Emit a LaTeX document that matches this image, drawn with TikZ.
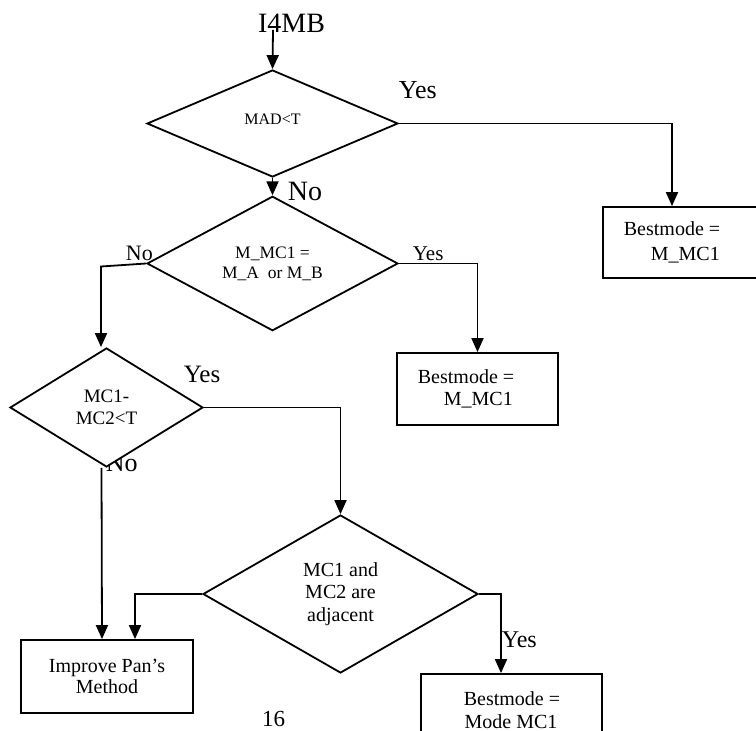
\documentclass[tikz,border=0pt]{standalone}
\usepackage{fontspec}
\setmainfont{Liberation Serif}
\usetikzlibrary{shapes.geometric,arrows.meta}
\newcommand{\fs}[1]{\fontsize{#1}{#1}\selectfont}
\begin{document}
\begin{tikzpicture}[x=1pt,y=-1pt,
  line width=1.8pt,
  arr/.style={-{Triangle[width=12pt,length=14pt]}},
  dec/.style={diamond,draw,fill=white,inner sep=0pt,align=center},
  box/.style={rectangle,draw,fill=white,inner sep=0pt},
  lbl/.style={inner sep=0pt,anchor=base west},
  ctr/.style={inner sep=0pt,anchor=base},
]
\useasboundingbox (0,0) rectangle (756,731);

% labels that lie under shapes
\node[lbl,font=\fs{26}] (no3) at (105,471) {No};

% decisions
\node[dec,minimum width=251pt,minimum height=107pt,font=\fs{16}] (d1) at (272.5,123.5) {\raisebox{9pt}{MAD<T}};
\node[dec,minimum width=251pt,minimum height=107pt,font=\fontsize{17.5}{20}\selectfont] (d2) at (272.5,263.5) {M\_MC1 =\\M\_A\ \ or M\_B};
\node[dec,minimum width=193pt,minimum height=119pt,font=\fontsize{19}{22}\selectfont] (d3) at (106.5,407.5) {MC1-\\MC2<T};
\node[dec,minimum width=275pt,minimum height=158pt,font=\fontsize{20}{22.5}\selectfont] (d4) at (340.5,594) {MC1 and\\MC2 are\\adjacent};

% boxes
\node[box,minimum width=167pt,minimum height=71pt] (b2) at (686.5,242.5) {};
\node[box,minimum width=161pt,minimum height=72pt] (b3) at (477.5,389) {};
\node[box,minimum width=172pt,minimum height=73pt,align=center,font=\fontsize{20}{21}\selectfont] (b1) at (107,676.5) {Improve Pan’s\\Method};
\node[box,minimum width=181pt,minimum height=76pt] (b4) at (511.5,712) {};

% box texts
\node[lbl,font=\fs{20}] (t2a) at (623,235) {Bestmode =};
\node[lbl,font=\fs{20}] (t2b) at (650,260) {M\_MC1};
\node[lbl,font=\fs{20}] (t3a) at (417,383) {Bestmode =};
\node[lbl,font=\fs{20}] (t3b) at (443,405) {M\_MC1};
\node[ctr,font=\fs{20}] (t4a) at (512,705) {Bestmode =};
\node[ctr,font=\fs{20}] (t4b) at (511,728) {Mode MC1};

% branch labels
\node[ctr,font=\fs{28}] (i4mb) at (291.5,32) {I4MB};
\node[lbl,font=\fs{26}] (yes1) at (398,98) {Yes};
\node[lbl,font=\fs{28}] (no1) at (287,200) {No};
\node[lbl,font=\fs{22}] (no2) at (125,260) {No};
\node[lbl,font=\fs{21}] (yes2) at (412,260) {Yes};
\node[lbl,font=\fs{25}] (yes3) at (183,382) {Yes};
\node[lbl,font=\fs{24}] (yes4) at (501,647) {Yes};
\node[ctr,font=\fs{23}] (page) at (273.5,726) {16};

% connectors
\draw[arr] ([xshift=-18.5pt,yshift=3pt]i4mb.south) -- (d1.north);
\draw[arr] (d1.east) -| ([xshift=-14.5pt]b2.north);
\draw[arr] (d1.south) -- (d2.north);
\draw[arr] (d2.west) -- ([xshift=-5.5pt,yshift=-3pt]d2.west -| d3.north) -- ([xshift=-5.5pt]d3.north);
\draw[arr] (d2.east) -| (b3.north);
\draw[arr] (d3.east) -| (d4.north);
\draw[arr] ([xshift=-5pt]d3.south) -- ([xshift=-5pt]b1.north);
\draw[arr] (d4.west) -| ([xshift=28pt]b1.north);
\draw[arr] (d4.east) -| ([xshift=-10.5pt]b4.north);
\end{tikzpicture}
\end{document}
